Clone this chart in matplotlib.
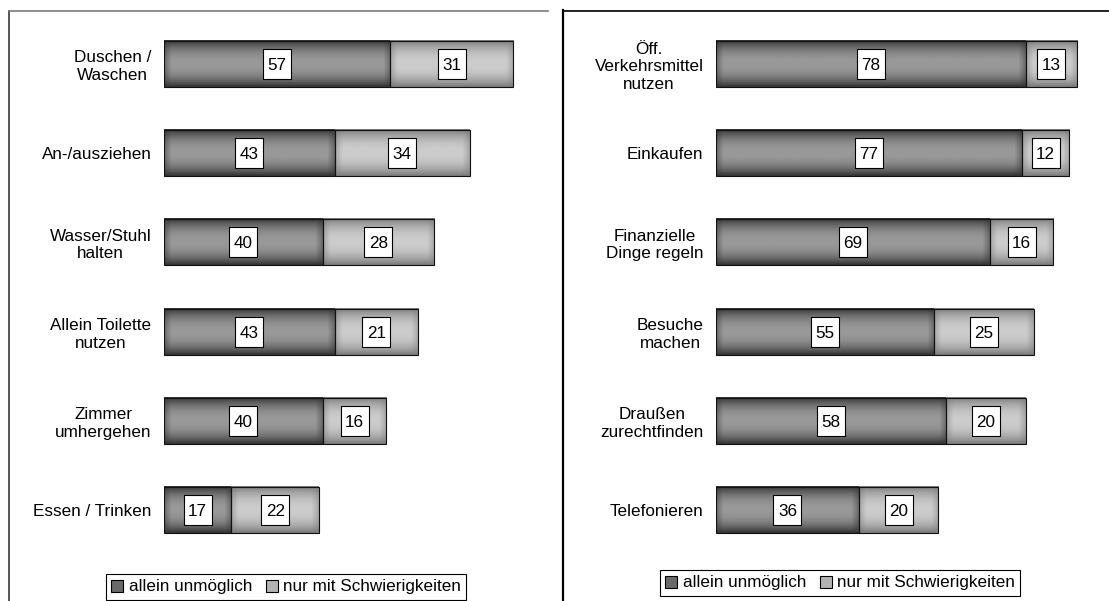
import numpy as np
import matplotlib
matplotlib.use("Agg")
import matplotlib.pyplot as plt
from matplotlib.patches import Rectangle, Patch
from matplotlib.lines import Line2D
from matplotlib.path import Path

plt.rcParams['font.family'] = ['Liberation Sans', 'DejaVu Sans']

# Selbstversorgung (Körperpflege)
left_cats = ["Duschen /\nWaschen", "An-/ausziehen", "Wasser/Stuhl\nhalten",
             "Allein Toilette\nnutzen", "Zimmer\numhergehen", "Essen / Trinken"]
left_impossible = [57, 43, 40, 43, 40, 17]
left_difficult = [31, 34, 28, 21, 16, 22]

# Alltagsaktivitäten außer Haus
right_cats = ["Öff.\nVerkehrsmittel\nnutzen", "Einkaufen", "Finanzielle\nDinge regeln",
              "Besuche\nmachen", "Draußen\nzurechtfinden", "Telefonieren"]
right_impossible = [78, 77, 69, 55, 58, 36]
right_difficult = [13, 12, 16, 25, 20, 20]

series_names = ["allein unmöglich", "nur mit Schwierigkeiten"]
# (edge, centre) grey levels of the shaded bars
shades = [(0.20, 0.60), (0.48, 0.80)]

W, H = 1109, 601
FS = 12.3
BAR_H = 0.516

# white label box, a bit taller than wide
LABEL_BOX = Path([(-14, -15.5), (14, -15.5), (14, 15.5), (-14, 15.5), (-14, -15.5)],
                 [Path.MOVETO, Path.LINETO, Path.LINETO, Path.LINETO, Path.CLOSEPOLY])


def px_axes(fig, x0, x1, y0, y1):
    # axes placed by pixel box (top-left origin)
    return fig.add_axes([x0 / W, 1 - y1 / H, (x1 - x0) / W, (y1 - y0) / H])


def shaded_bar(ax, left, width, y, shade):
    edge, centre = shade
    t = np.linspace(-1, 1, 60)[:, None]
    sy = 1 - np.abs(t) ** 2.2
    xs = np.linspace(left, left + width, max(int(width * 4), 8))[None, :]
    d = np.minimum(xs - left, left + width - xs)
    sx = 0.55 + 0.45 * np.clip(d / 1.8, 0, 1)
    img = edge + (centre - edge) * sy * sx
    ax.imshow(img, extent=(left, left + width, y + BAR_H / 2, y - BAR_H / 2),
              aspect='auto', cmap='gray', vmin=0, vmax=1,
              interpolation='bilinear', zorder=2)
    ax.add_patch(Rectangle((left, y - BAR_H / 2), width, BAR_H, fill=False,
                           ec='#111111', lw=0.8, zorder=3))


def panel(ax, cats, first, second):
    ys = np.arange(len(cats))
    for y, a, b in zip(ys, first, second):
        shaded_bar(ax, 0, a, y, shades[0])
        shaded_bar(ax, a, b, y, shades[1])
        for start, v in ((0, a), (a, b)):
            ax.plot(start + v / 2, y, marker=LABEL_BOX, markersize=22.3,
                    mfc='white', mec='black', mew=0.8, zorder=4)
            ax.text(start + v / 2, y, str(v), ha='center', va='center_baseline',
                    fontsize=FS, zorder=5)
    ax.set_xlim(0, 100)
    ax.set_ylim(len(cats) - 0.5, -0.5)
    ax.set_yticks(ys)
    ax.set_yticklabels(cats, fontsize=FS, multialignment='center')
    ax.tick_params(axis='y', length=0, pad=9)
    ax.set_xticks([])
    for s in ax.spines.values():
        s.set_visible(False)
    ax.patch.set_visible(False)


fig = plt.figure(figsize=(W / 100, H / 100), dpi=100)

ax1 = px_axes(fig, 164, 561, 19.4, 554.6)
panel(ax1, left_cats, left_impossible, left_difficult)
ax2 = px_axes(fig, 716, 1113, 19.4, 554.6)
panel(ax2, right_cats, right_impossible, right_difficult)


def fig_line(xs, ys, **kw):
    fig.add_artist(Line2D([x / W for x in xs], [1 - y / H for y in ys],
                          transform=fig.transFigure, **kw))


# panel frames
fig_line([8.5, 8.5], [10.5, 601], color='#3a3a3a', lw=1.2)
fig_line([8.5, 548], [10.5, 10.5], color='#7a7a7a', lw=1.2)
fig_line([563, 563], [10, 601], color='black', lw=1.6)
fig_line([563, 1109], [10.5, 10.5], color='black', lw=1.2)

handles = [Patch(facecolor='#6a6a6a', edgecolor='black', lw=0.8),
           Patch(facecolor='#b4b4b4', edgecolor='black', lw=0.8)]
for ax, cx, cy in ((ax1, 286, 587), (ax2, 840, 583)):
    leg = ax.legend(handles, series_names, loc='center',
                    bbox_to_anchor=(cx / W, 1 - cy / H),
                    bbox_transform=fig.transFigure, ncol=2, fontsize=FS,
                    frameon=True, fancybox=False, edgecolor='black',
                    framealpha=1, handlelength=0.7, handleheight=0.7,
                    handletextpad=0.3, columnspacing=0.8, borderpad=0.3,
                    borderaxespad=0)
    leg.get_frame().set_linewidth(0.8)

fig.savefig("out.png", dpi=100)
